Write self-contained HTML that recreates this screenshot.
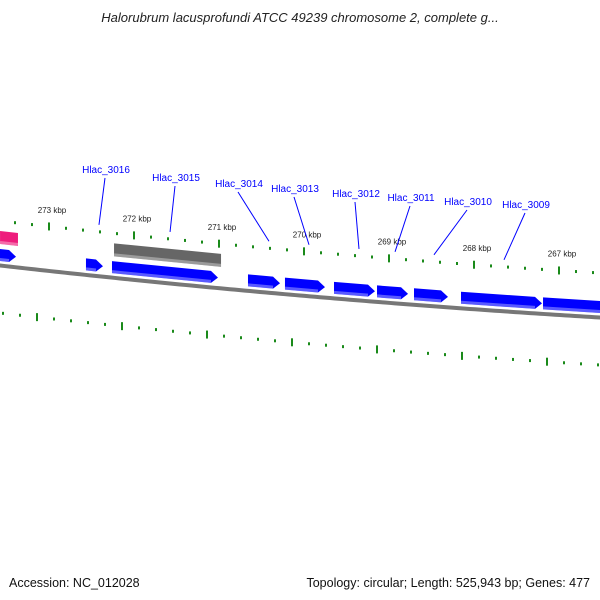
<!DOCTYPE html>
<html><head><meta charset="utf-8"><style>
html,body{margin:0;padding:0;background:#fff;}
svg{display:block;font-family:"Liberation Sans",sans-serif;}
</style></head><body>
<svg width="600" height="600" viewBox="0 0 600 600">
<text x="300" y="22" text-anchor="middle" font-size="13" font-style="italic" fill="#222">Halorubrum lacusprofundi ATCC 49239 chromosome 2, complete g...</text>
<g id="ticks"></g>
<g id="backbone"></g>
<g id="genes"></g>
<g id="labels"></g>
<text x="9" y="587" font-size="12.5" fill="#111">Accession: NC_012028</text>
<text x="590" y="587" text-anchor="end" font-size="12.5" fill="#111">Topology: circular; Length: 525,943 bp; Genes: 477</text>
</svg>
<script>
const geneStarts=[273.576,273.60,272.565,272.259,272.235,270.659,270.224,269.647,269.141,268.706,268.153,267.188];
const geneEnds=[273.365,273.388,272.365,271.012,270.976,270.282,269.753,269.165,268.776,268.306,267.2,266.3];
const geneRows=[1,0,0,0,1,0,0,0,0,0,0,0];
const geneColors=['#ee1c7c','#0000ff','#0000ff','#0000ff','#666666','#0000ff','#0000ff','#0000ff','#0000ff','#0000ff','#0000ff','#0000ff'];
const geneArrow=[false,true,true,true,false,true,true,true,true,true,true,true];
const labelNames=['Hlac_3016','Hlac_3015','Hlac_3014','Hlac_3013','Hlac_3012','Hlac_3011','Hlac_3010','Hlac_3009'];
const labelAnchors=[272.412,271.576,270.412,269.941,269.353,268.929,268.471,267.647];
const labelX=[106,176,239,295,356,411,468,526];
const labelY=[173,181,187,192,197,201,205,208];
const tickLabels=[273,272,271,270,269,268,267];
const NS='http://www.w3.org/2000/svg';
function X(k){return 49+(273-k)*85;}
function Y(x){return 265+0.1133*x-0.0000444*x*x;}
function mk(tag,attrs,parent){const e=document.createElementNS(NS,tag);for(const a in attrs)e.setAttribute(a,attrs[a]);parent.appendChild(e);return e;}
const bb=document.getElementById('backbone');
let d='';for(let x=-5;x<=605;x+=5){d+=(x===-5?'M':'L')+x+','+(Y(x)+0.5)+' ';}
const bl=mk('path',{d:d,stroke:'#777',"stroke-width":4,fill:'none'},bb);


const tg=document.getElementById('ticks');
for(let i=0;i<=36;i++){
  const k=273.6-i*0.2;const major=Math.abs(k-Math.round(k))<0.01;
  [[-44,0],[48,-12]].forEach(([off,dx])=>{
    const x=X(k)+dx;const y=Y(x)+off;
    const r=mk('rect',{x:x-1,y:major?y-4:y-1.5,width:2,height:major?8:3,fill:'#1a8a1a'},tg);
    
    
  });
}
tickLabels.forEach(k=>{
  const x=X(k)+3;
  const t=mk('text',{x:x,y:Y(x)-58,"text-anchor":"middle","font-size":8,fill:'#222'},tg);
  t.textContent=k+' kbp';
  
  
});
const gg=document.getElementById('genes');
geneStarts.forEach((s,i)=>{
  const x0=X(s),x1=X(geneEnds[i]);
  const top=geneRows[i]?-34:-16,bot=geneRows[i]?-21:-4;
  const head=geneArrow[i]?7:0;
  const xh=x1-head;
  const pts=[[x0,Y(x0)+top],[xh,Y(xh)+top],[x1,Y(x1)+(top+bot)/2],[xh,Y(xh)+bot],[x0,Y(x0)+bot]];
  const p=mk('polygon',{points:pts.map(q=>q.join(',')).join(' '),fill:geneColors[i]},gg);
  
  
  const e=mk('path',{d:`M${x0},${Y(x0)+bot-1.5} L${xh},${Y(xh)+bot-1.5}`,stroke:'#fff',"stroke-opacity":0.35,"stroke-width":3,fill:'none'},gg);
  
  
});
const lg=document.getElementById('labels');
labelNames.forEach((n,i)=>{
  const ax=X(labelAnchors[i]);
  const l=mk('line',{x1:labelX[i]-1,y1:labelY[i]+5,x2:ax,y2:Y(ax)-51,stroke:'#0000ff',"stroke-width":1},lg);
  
  
  const t=mk('text',{x:labelX[i],y:labelY[i],"text-anchor":"middle","font-size":10,fill:'#0000ff'},lg);
  t.textContent=n;
  
  
});
</script>
</body></html>
